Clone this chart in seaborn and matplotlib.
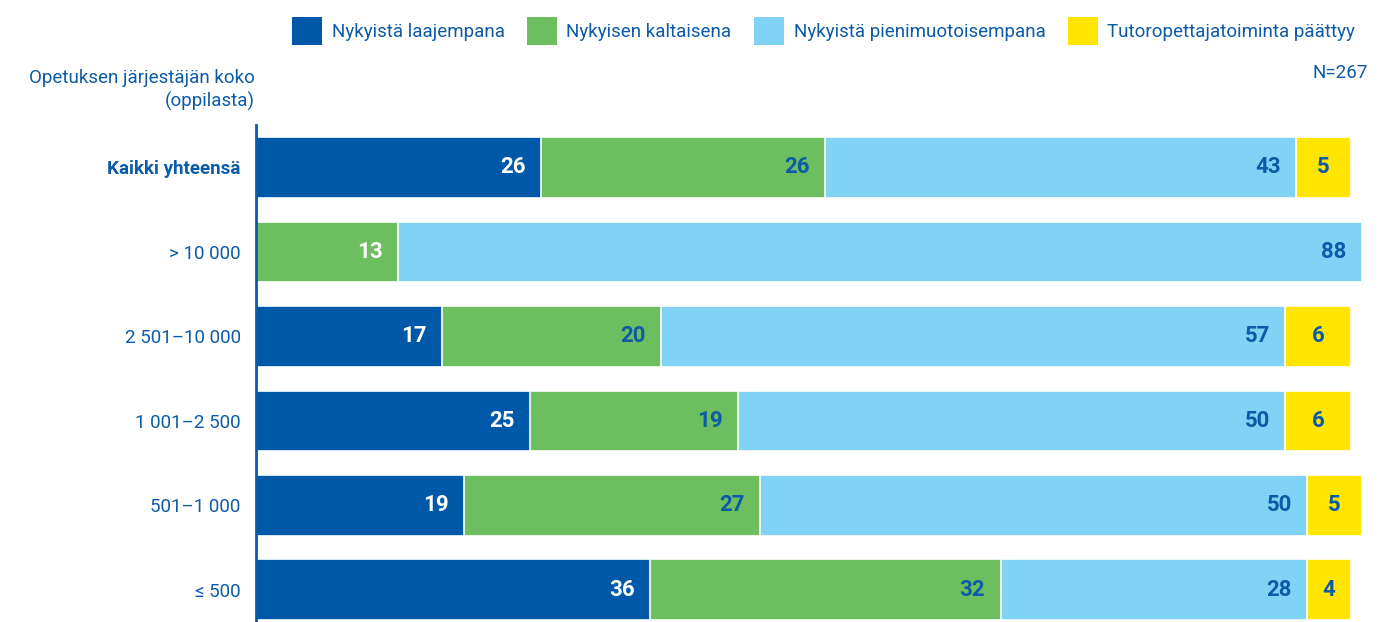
import numpy as np
import pandas as pd
import matplotlib
matplotlib.use("Agg")
import matplotlib.pyplot as plt
import seaborn as sns
from matplotlib.patches import Patch

# data
categories = ["Kaikki yhteensä", "> 10 000", "2 501–10 000", "1 001–2 500", "501–1 000", "≤ 500"]
series = ["Nykyistä laajempana", "Nykyisen kaltaisena",
          "Nykyistä pienimuotoisempana", "Tutoropettajatoiminta päättyy"]
laajempana = [26, 0, 17, 25, 19, 36]
kaltaisena = [26, 13, 20, 19, 27, 32]
pienempana = [43, 88, 57, 50, 50, 28]
paattyy = [5, 0, 6, 6, 5, 4]

colors = ["#0059A8", "#6CBE5E", "#81D3F6", "#FFE500"]
text_dark = "#0B5BA8"

sns.set_theme(style="white")
plt.rcParams["font.family"] = ["Roboto", "DejaVu Sans"]

df = pd.DataFrame({"kategoria": categories,
                   series[0]: laajempana, series[1]: kaltaisena,
                   series[2]: pienempana, series[3]: paattyy})
vals = df[series].to_numpy(dtype=float)
cum = np.cumsum(vals, axis=1)

fig = plt.figure(figsize=(13.87, 6.22), dpi=100)
ax = fig.add_axes([256 / 1387, 0, 1106 / 1387, 497 / 622])

# pinotut palkit: kumulatiiviset summat pisimmästä lyhimpään
for i in range(len(series) - 1, -1, -1):
    sns.barplot(x=cum[:, i], y=df["kategoria"], orient="h", color=colors[i],
                width=0.72, edgecolor="white", linewidth=1.2, saturation=1, ax=ax)

# arvotekstit
label_cols = [["white"] * 6,
              [text_dark, "white", text_dark, text_dark, text_dark, text_dark],
              [text_dark] * 6,
              [text_dark] * 6]
for r in range(len(categories)):
    for i in range(len(series)):
        v = vals[r, i]
        if v <= 0:
            continue
        if i == 3:
            xpos = cum[r, i] - v / 2
            ha = "center"
        else:
            xpos = cum[r, i] - 1.4
            ha = "right"
        ax.text(xpos, r, f"{int(v)}", ha=ha, va="center", fontsize=16,
                fontweight="bold", color=label_cols[i][r])

ax.set_xlim(0, 101)
ax.set_ylim(5.38, -0.503)
ax.set_xlabel("")
ax.set_ylabel("")
ax.set_xticks([])
for s in ["top", "right", "bottom"]:
    ax.spines[s].set_visible(False)
ax.spines["left"].set_color(text_dark)
ax.spines["left"].set_linewidth(2)
ax.tick_params(axis="y", length=0, pad=11, labelsize=13.5, labelcolor=text_dark)
ax.get_yticklabels()[0].set_fontweight("bold")

fig.text(255 / 1387, 1 - 90 / 622, "Opetuksen järjestäjän koko\n(oppilasta)",
         ha="right", va="center", fontsize=13.5, color=text_dark, linespacing=1.3)
fig.text(1368 / 1387, 1 - 73 / 622, "N=267", ha="right", va="center",
         fontsize=13.5, color=text_dark)

handles = [Patch(facecolor=c, edgecolor="none") for c in colors]
leg = fig.legend(handles, series, loc="upper right", bbox_to_anchor=(1372 / 1387, 1.0),
                 ncol=4, frameon=False, fontsize=13.5, handlelength=1.6, handleheight=1.9,
                 handletextpad=0.5, columnspacing=1.2, borderaxespad=0.5)
for t in leg.get_texts():
    t.set_color(text_dark)

fig.savefig("out.png", dpi=100)
